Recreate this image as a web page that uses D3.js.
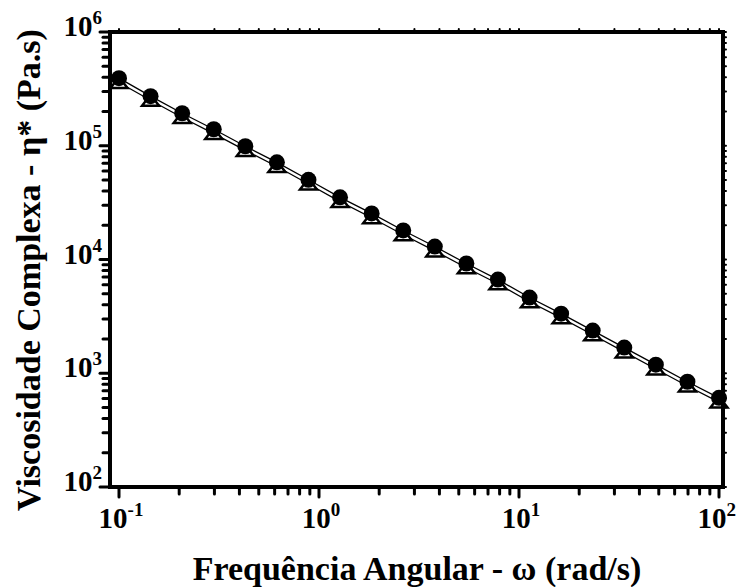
<!DOCTYPE html>
<html>
<head>
<meta charset="utf-8">
<script src="https://cdn.jsdelivr.net/npm/d3@7"></script>
<style>
  html, body { margin: 0; padding: 0; background: #fff; }
  svg { display: block; }
  text { font-family: "Liberation Serif", "Times New Roman", serif; font-weight: bold; fill: #000; }
</style>
</head>
<body>
<svg id="chart" width="737" height="587"></svg>
<script>
// Angular frequency sweep (rad/s), 20 log-spaced points
const frequency = [0.1, 0.1438, 0.2069, 0.2976, 0.4281, 0.6158, 0.8859, 1.274, 1.833, 2.637,
                   3.793, 5.456, 7.848, 11.29, 16.24, 23.36, 33.60, 48.33, 69.52, 100];
// Complex viscosity, series drawn with filled circles (Pa.s)
const etaCircle = [393000, 273000, 193000, 139700, 99000, 71500, 50200, 35200, 25400, 18000,
                   13000, 9220, 6660, 4630, 3340, 2370, 1680, 1190, 842, 608];
// Complex viscosity, series drawn with open triangles (Pa.s)
const etaTriangle = [360000, 251000, 177000, 128000, 91000, 65700, 46100, 32300, 23300, 16500,
                     11900, 8470, 6120, 4250, 3070, 2180, 1540, 1090, 773, 558];
// Tick label exponents
const xExponents = [-1, 0, 1, 2];
const yExponents = [2, 3, 4, 5, 6];

const svg = d3.select("#chart");
const W = 737;
const frame = { left: 110, right: 723, top: 32, bottom: 487 };

const x = d3.scaleLog()
  .domain([Math.pow(10, -1.045), Math.pow(10, 2.02)])
  .range([frame.left, frame.right]);
const y = d3.scaleLog()
  .domain([1e2, 1e6])
  .range([frame.bottom, frame.top]);

// minor tick values
const xMinor = [];
[-1, 0, 1].forEach(e => { for (let m = 2; m <= 9; m++) xMinor.push(m * Math.pow(10, e)); });
const yMinor = [];
[2, 3, 4, 5].forEach(e => { for (let m = 2; m <= 9; m++) yMinor.push(m * Math.pow(10, e)); });
const xMajor = xExponents.map(e => Math.pow(10, e));
const yMajor = yExponents.map(e => Math.pow(10, e));

const tickGroup = svg.append("g")
  .attr("stroke", "#000").attr("stroke-linecap", "round");

// bottom axis ticks (outward)
tickGroup.selectAll(".xb").data(xMajor.concat(xMinor)).join("line")
  .attr("x1", d => x(d)).attr("x2", d => x(d))
  .attr("y1", frame.bottom)
  .attr("y2", d => frame.bottom + (xMajor.includes(d) ? 10 : 7))
  .attr("stroke-width", 3);
// top axis ticks (short, outward)
tickGroup.selectAll(".xt").data(xMajor.concat(xMinor)).join("line")
  .attr("x1", d => x(d)).attr("x2", d => x(d))
  .attr("y1", frame.top)
  .attr("y2", frame.top - 3)
  .attr("stroke-width", 2);
// left axis ticks (outward)
tickGroup.selectAll(".yl").data(yMajor.concat(yMinor)).join("line")
  .attr("y1", d => y(d)).attr("y2", d => y(d))
  .attr("x1", frame.left)
  .attr("x2", d => frame.left - (yMajor.includes(d) ? 10 : 7))
  .attr("stroke-width", 3);
// right axis ticks (short, outward)
tickGroup.selectAll(".yr").data(yMajor.concat(yMinor)).join("line")
  .attr("y1", d => y(d)).attr("y2", d => y(d))
  .attr("x1", frame.right)
  .attr("x2", frame.right + 3)
  .attr("stroke-width", 2);

// data lines
const line = d3.line().x(d => x(d[0])).y(d => y(d[1]));
const triPts = frequency.map((f, i) => [f, etaTriangle[i]]);
const cirPts = frequency.map((f, i) => [f, etaCircle[i]]);
svg.append("path").attr("d", line(triPts))
  .attr("fill", "none").attr("stroke", "#000").attr("stroke-width", 1.3);
svg.append("path").attr("d", line(cirPts))
  .attr("fill", "none").attr("stroke", "#000").attr("stroke-width", 1.3);

// open triangles
const tw = 8.5, th = 5.5;
svg.append("g").selectAll("path").data(triPts).join("path")
  .attr("d", d => {
    const cx = x(d[0]), cy = y(d[1]);
    return `M${cx},${cy - th}L${cx + tw},${cy + th}L${cx - tw},${cy + th}Z`;
  })
  .attr("fill", "#fff").attr("stroke", "#000").attr("stroke-width", 2.5)
  .attr("stroke-linejoin", "miter");

// filled circles
svg.append("g").selectAll("circle").data(cirPts).join("circle")
  .attr("cx", d => x(d[0])).attr("cy", d => y(d[1]))
  .attr("r", 8).attr("fill", "#000");

// frame
svg.append("rect")
  .attr("x", frame.left).attr("y", frame.top)
  .attr("width", frame.right - frame.left).attr("height", frame.bottom - frame.top)
  .attr("fill", "none").attr("stroke", "#000").attr("stroke-width", 4);

// tick labels
const labelSize = 29, supSize = 19;
const xl = svg.append("g").selectAll("text").data(xExponents).join("text")
  .attr("x", d => x(Math.pow(10, d)) + 2)
  .attr("y", 528)
  .attr("text-anchor", "middle")
  .style("font-size", labelSize + "px");
xl.append("tspan").text("10");
xl.append("tspan").attr("dy", -12).style("font-size", supSize + "px").text(d => d);
// keep the last decade label inside the canvas
xl.each(function () {
  const b = this.getBBox();
  const over = b.x + b.width - (W - 1);
  if (over > 0) d3.select(this).attr("x", +d3.select(this).attr("x") - over);
});

const yl = svg.append("g").selectAll("text").data(yExponents).join("text")
  .attr("x", 102)
  .attr("y", d => y(Math.pow(10, d)) + 4)
  .attr("text-anchor", "end")
  .style("font-size", labelSize + "px");
yl.append("tspan").text("10");
yl.append("tspan").attr("dy", -12).style("font-size", supSize + "px").text(d => d);

// axis titles
svg.append("text")
  .attr("x", 417).attr("y", 580)
  .attr("text-anchor", "middle")
  .style("font-size", "34px")
  .text("Frequência Angular - ω (rad/s)");

svg.append("text")
  .attr("transform", "translate(40,270) rotate(-90)")
  .attr("text-anchor", "middle")
  .style("font-size", "34px")
  .text("Viscosidade Complexa - η* (Pa.s)");
</script>
</body>
</html>
